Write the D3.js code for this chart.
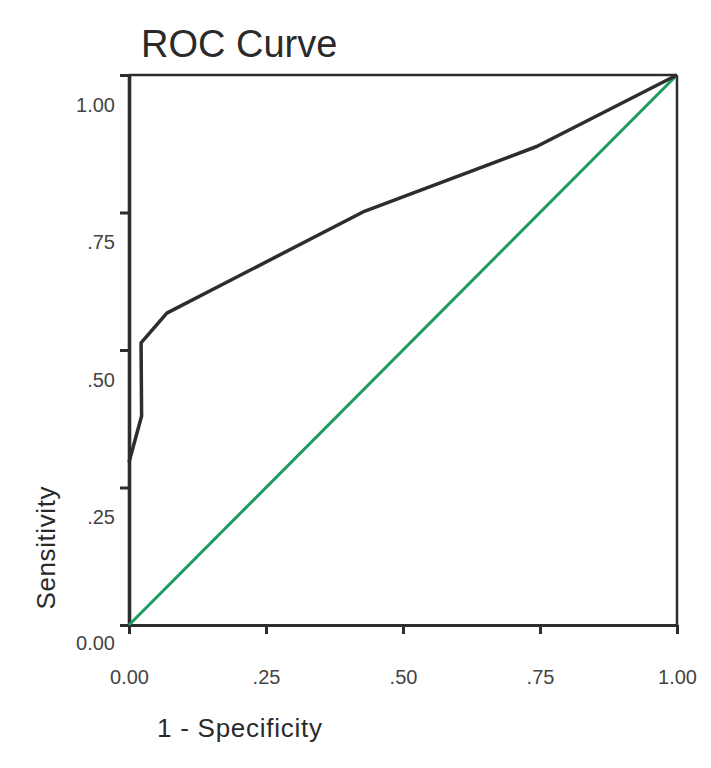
<!DOCTYPE html>
<html>
<head>
<meta charset="utf-8">
<script src="https://cdn.jsdelivr.net/npm/d3@7"></script>
<style>
  body { margin: 0; background: #fff; }
  svg { display: block; }
</style>
</head>
<body>
<svg id="chart" width="711" height="768"></svg>
<script>
// ROC curve points (1 - specificity, sensitivity)
var fpr = [0, 0.023, 0.022, 0.069, 0.427, 0.744, 1];
var sens = [0.296, 0.38, 0.513, 0.567, 0.751, 0.870, 1];
// reference diagonal
var refX = [0, 1];
var refY = [0, 1];
var tickVals = [0, 0.25, 0.5, 0.75, 1];
var tickLabels = ["0.00", ".25", ".50", ".75", "1.00"];

var margin = {top: 75, right: 34, bottom: 143, left: 129};
var width = 711 - margin.left - margin.right;
var height = 768 - margin.top - margin.bottom;

var x = d3.scaleLinear().domain([0, 1]).range([0, width]);
var y = d3.scaleLinear().domain([0, 1]).range([height, 0]);

var svg = d3.select("#chart");
var graph = svg.append("g")
  .attr("transform", "translate(" + margin.left + "," + margin.top + ")");

var ink = "#2d2d2d";
var font = "Liberation Sans, Arial, sans-serif";

// frame top + right
graph.append("line")
  .attr("x1", x(0)).attr("x2", x(1))
  .attr("y1", y(1)).attr("y2", y(1))
  .style("stroke", ink).style("stroke-width", 2.5);
graph.append("line")
  .attr("x1", x(1)).attr("x2", x(1))
  .attr("y1", y(1)).attr("y2", y(0))
  .style("stroke", ink).style("stroke-width", 2.5);

// x axis
var xAxis = graph.append("g")
  .attr("transform", "translate(0," + height + ")")
  .call(d3.axisBottom(x).tickValues(tickVals)
    .tickFormat(function(d, i) { return tickLabels[i]; })
    .tickSizeInner(9).tickSizeOuter(0));
xAxis.select(".domain").style("stroke", ink).style("stroke-width", 3.2);
xAxis.selectAll(".tick line").style("stroke", ink).style("stroke-width", 3);
xAxis.selectAll(".tick text")
  .attr("y", 59).attr("dy", 0)
  .style("font-family", font).style("font-size", "20px").style("fill", "#444");

// y axis
var yAxis = graph.append("g")
  .call(d3.axisLeft(y).tickValues(tickVals)
    .tickFormat(function(d, i) { return tickLabels[i]; })
    .tickSizeInner(9).tickSizeOuter(0));
yAxis.select(".domain").style("stroke", ink).style("stroke-width", 3.6);
yAxis.selectAll(".tick line").style("stroke", ink).style("stroke-width", 3);
yAxis.selectAll(".tick text")
  .attr("x", -14)
  .attr("dy", 0)
  .attr("y", function(d) { return d === 0 ? 24 : 36; })
  .style("font-family", font).style("font-size", "20px").style("fill", "#444");

// diagonal
var refLine = d3.line()
  .x(function(d, i) { return x(refX[i]); })
  .y(function(d, i) { return y(refY[i]); });
graph.append("path")
  .datum(refX)
  .attr("d", refLine)
  .style("fill", "none")
  .style("stroke", "#1e9a5e")
  .style("stroke-width", 3);

// ROC curve
var rocLine = d3.line()
  .x(function(d, i) { return x(fpr[i]); })
  .y(function(d, i) { return y(sens[i]); });
graph.append("path")
  .datum(fpr)
  .attr("d", rocLine)
  .style("fill", "none")
  .style("stroke", ink)
  .style("stroke-width", 3.5)
  .style("stroke-linejoin", "round");

// titles
svg.append("text")
  .attr("x", 141).attr("y", 57)
  .style("font-family", font).style("font-size", "38px").style("fill", "#2a2a2a")
  .text("ROC Curve");

svg.append("text")
  .attr("x", 157).attr("y", 737)
  .attr("textLength", 165)
  .style("font-family", font).style("font-size", "26px").style("fill", "#2a2a2a")
  .text("1 - Specificity");

svg.append("text")
  .attr("transform", "translate(55,548) rotate(-90)")
  .attr("text-anchor", "middle")
  .attr("textLength", 123)
  .style("font-family", font).style("font-size", "26px").style("fill", "#2a2a2a")
  .text("Sensitivity");
</script>
</body>
</html>
